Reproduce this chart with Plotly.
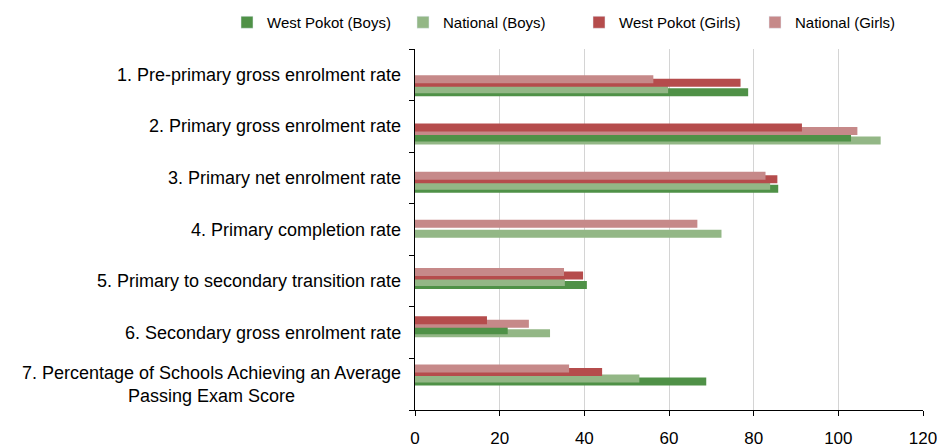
import plotly.graph_objects as go

categories = [
    "1. Pre-primary gross enrolment rate",
    "2. Primary gross enrolment rate",
    "3. Primary net enrolment rate",
    "4. Primary completion rate",
    "5. Primary to secondary transition rate",
    "6. Secondary gross enrolment rate",
    "7. Percentage of Schools Achieving an Average<br>Passing Exam Score",
]
west_pokot_boys = [78.7, 103.0, 85.8, None, 40.6, 21.9, 68.8]
national_boys = [59.8, 110.0, 83.9, 72.4, 35.4, 31.9, 53.0]
west_pokot_girls = [76.9, 91.4, 85.6, None, 39.7, 17.0, 44.2]
national_girls = [56.3, 104.5, 82.8, 66.7, 35.2, 26.9, 36.4]
x_ticks = [0, 20, 40, 60, 80, 100, 120]

series_names = ["West Pokot (Boys)", "National (Boys)", "West Pokot (Girls)", "National (Girls)"]
colors = ["#4f9147", "#93b786", "#b54c4c", "#c68989"]

FONT = "Liberation Sans, Arial, sans-serif"

# --- geometry (pixels) ---
W, H = 937, 448
plot_left, plot_right = 415, 923
plot_top, plot_bottom = 49, 410
first_group_center = 85.8   # px, centre of first bar cluster
group_step = 48.18          # px between bar clusters
bar_px = 8.0
slot_tops = [0.0, 3.5, 10.0, 13.0]  # px within cluster (girls short, girls long, boys short, boys long)
cluster_h = 21.0

unit = group_step
y2_top = (plot_top - first_group_center) / unit
y2_bottom = (plot_bottom - first_group_center) / unit
bar_w = bar_px / unit
slot_offsets = [(t - cluster_h / 2) / unit for t in slot_tops]

n = len(categories)
idx = list(range(n))


def split_pair(a_vals, b_vals, a_col, b_col):
    short_x, short_c, long_x, long_c = [], [], [], []
    for a, b in zip(a_vals, b_vals):
        if a is None and b is None:
            short_x.append(None); short_c.append(a_col); long_x.append(None); long_c.append(b_col)
        elif a is None:
            short_x.append(b); short_c.append(b_col); long_x.append(None); long_c.append(a_col)
        elif b is None:
            short_x.append(a); short_c.append(a_col); long_x.append(None); long_c.append(b_col)
        elif a <= b:
            short_x.append(a); short_c.append(a_col); long_x.append(b); long_c.append(b_col)
        else:
            short_x.append(b); short_c.append(b_col); long_x.append(a); long_c.append(a_col)
    return short_x, short_c, long_x, long_c


g_sx, g_sc, g_lx, g_lc = split_pair(west_pokot_girls, national_girls, colors[2], colors[3])
b_sx, b_sc, b_lx, b_lc = split_pair(west_pokot_boys, national_boys, colors[0], colors[1])

fig = go.Figure()

# legend entries
for name, col in zip(series_names, colors):
    fig.add_trace(go.Bar(x=[None], y=[None], orientation="h", name=name,
                         marker=dict(color=col), xaxis="x", yaxis="y", hoverinfo="skip"))

# bars, drawn bottom-most first: boys long, boys short, girls long, girls short
for xs, cs, slot in [(b_lx, b_lc, 3), (b_sx, b_sc, 2), (g_lx, g_lc, 1), (g_sx, g_sc, 0)]:
    fig.add_trace(go.Bar(x=xs, y=idx, orientation="h", marker=dict(color=cs, line=dict(width=0)),
                         width=[bar_w] * n, offset=[slot_offsets[slot]] * n,
                         showlegend=False, xaxis="x", yaxis="y2"))

for i, lab in enumerate(categories):
    fig.add_annotation(x=0, xref="paper", y=i, yref="y", text=lab, showarrow=False,
                       xanchor="right", yanchor="middle", xshift=-12, align="center",
                       font=dict(family=FONT, size=18, color="#000000"))

pw = plot_right - plot_left
ph = plot_bottom - plot_top
legend_left_px, legend_top_px = 227, 6

fig.update_layout(
    width=W, height=H,
    margin=dict(l=plot_left, r=W - plot_right, t=plot_top, b=H - plot_bottom, autoexpand=False),
    paper_bgcolor="white", plot_bgcolor="white",
    barmode="overlay",
    font=dict(family=FONT, size=16, color="#000000"),
    showlegend=True,
    legend=dict(orientation="h", xref="paper", yref="paper",
                x=(legend_left_px - plot_left) / pw, y=1 + (plot_top - legend_top_px) / ph,
                xanchor="left", yanchor="top", font=dict(family=FONT, size=15),
                traceorder="normal", itemwidth=30, entrywidth=131, entrywidthmode="pixels"),
    xaxis=dict(range=[0, 120], tickvals=x_ticks, showgrid=True, gridcolor="#d4d4d4", gridwidth=1,
               showline=True, linecolor="#000000", linewidth=1, ticks="outside", ticklen=5,
               tickcolor="#000000", zeroline=False, tickfont=dict(family=FONT, size=17),
               ticklabelstandoff=8, ticklabeloverflow="allow"),
    yaxis=dict(range=[n - 0.5, -0.5], tickvals=[i - 0.5 for i in range(n + 1)], showticklabels=False,
               ticks="outside", ticklen=5, tickcolor="#000000", showline=True, linecolor="#000000",
               linewidth=1, showgrid=False, zeroline=False),
    yaxis2=dict(range=[y2_bottom, y2_top], overlaying="y", visible=False, showgrid=False, zeroline=False),
)

fig.write_html("out.html", config={"displayModeBar": False},
               post_script="document.body.style.margin='0';")
